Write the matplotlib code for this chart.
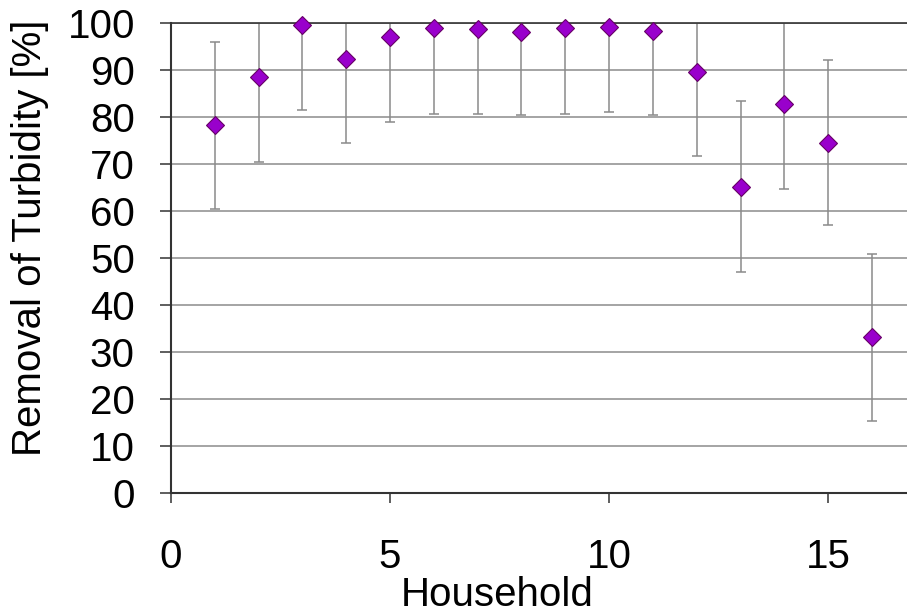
import matplotlib
matplotlib.use("Agg")
import matplotlib.pyplot as plt

# Data
households = [1, 2, 3, 4, 5, 6, 7, 8, 9, 10, 11, 12, 13, 14, 15, 16]
removal = [78.2, 88.5, 99.5, 92.4, 97.1, 98.9, 98.8, 98.1, 99.0, 99.2, 98.4, 89.6, 65.1, 82.8, 74.5, 33.1]
error = [17.8, 18.0, 18.0, 18.0, 18.2, 18.3, 18.2, 17.8, 18.4, 18.1, 18.1, 18.0, 18.2, 18.1, 17.6, 17.8]
x_ticks = [0, 5, 10, 15]
y_ticks = [0, 10, 20, 30, 40, 50, 60, 70, 80, 90, 100]

plt.rcParams['font.family'] = ['Liberation Sans', 'DejaVu Sans']
FS = 29

fig = plt.figure(figsize=(9.07, 6.15), dpi=100)
ax = fig.add_axes([171 / 907, 1 - 492.5 / 615, 736 / 907, 469.5 / 615])

# grid
ax.set_axisbelow(True)
ax.yaxis.grid(True, color='#8c8c8c', linewidth=1.1)

# error bars (clipped at 100 like the original)
ax.errorbar(households, removal, yerr=error, fmt='none', ecolor='#8a8a8a',
            elinewidth=1.1, capsize=3.8, capthick=1.1, zorder=2)
# markers
ax.plot(households, removal, linestyle='none', marker='D', markersize=8.7,
        markerfacecolor='#9900CC', markeredgecolor='#660066', markeredgewidth=0.8,
        clip_on=False, zorder=3)

ax.set_xlim(0, 16.8)
ax.set_ylim(0, 100)
ax.set_xticks(x_ticks)
ax.set_yticks(y_ticks)

for side in ['left', 'bottom', 'top']:
    ax.spines[side].set_color('#333333')
    ax.spines[side].set_linewidth(1.5)
ax.spines['top'].set_linewidth(1.2)
ax.spines['right'].set_visible(False)

ax.tick_params(axis='y', direction='out', length=8, width=1.1, color='#333333',
               pad=18, labelsize=FS)
ax.tick_params(axis='x', direction='out', length=7, width=1.1, color='#333333',
               pad=26, labelsize=FS)

ax.set_xlabel('Household', fontsize=FS, va='baseline')
ax.xaxis.set_label_coords((497 - 171) / 736, (492.5 - 606) / 469.5)
ax.set_ylabel('Removal of Turbidity [%]', fontsize=FS, va='center')
ax.yaxis.set_label_coords((30 - 171) / 736, (492.5 - 238) / 469.5)

fig.savefig('out.png', dpi=100)
